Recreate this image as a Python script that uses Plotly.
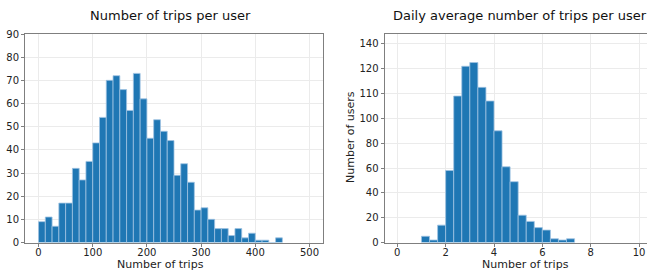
import plotly.graph_objects as go

# ---- data ----
left_bin_start = 0.0
left_bin_width = 12.5
left_counts = [9, 11, 7, 17, 17, 32, 27, 35, 43, 54, 70, 72, 66, 57, 73, 62, 45, 53,
               48, 44, 29, 34, 26, 14, 15, 10, 6, 6, 3, 6, 2, 4, 1, 1, 0, 2]

right_bin_start = 1.0
right_bin_width = 1.0 / 3.0
right_counts = [5, 2, 14, 58, 118, 142, 145, 125, 114, 90, 61, 49, 22, 17, 12, 10, 3, 2, 3]

left_xticks = [0, 100, 200, 300, 400, 500]
left_yticks = [0, 10, 20, 30, 40, 50, 60, 70, 80, 90]
right_xticks = [0, 2, 4, 6, 8, 10]
right_yticks = [0, 20, 40, 60, 80, 100, 120, 140, 160]
right_yticktext = ["0", "20", "40", "60", "80", "100", "110", "120", "140"]

title_left = "Number of trips per user"
title_right = "Daily average number of trips per user"
xlabel = "Number of trips"
ylabel_right = "Number of users"

# ---- figure ----
W, H = 647, 272
BAR = "#1f77b4"
EDGE = "#9fc3e2"
GRID = "#ebebeb"
FRAME = "#7f7f7f"
FONT = "DejaVu Sans"

lx = [left_bin_start + (i + 0.5) * left_bin_width for i in range(len(left_counts))]
rx = [right_bin_start + (i + 0.5) * right_bin_width for i in range(len(right_counts))]

fig = go.Figure()
fig.add_trace(go.Bar(x=lx, y=left_counts, width=left_bin_width,
                     marker=dict(color=BAR, line=dict(color=EDGE, width=0.8)),
                     xaxis="x", yaxis="y", showlegend=False, hoverinfo="skip"))
fig.add_trace(go.Bar(x=rx, y=right_counts, width=right_bin_width,
                     marker=dict(color=BAR, line=dict(color=EDGE, width=0.8)),
                     xaxis="x2", yaxis="y2", showlegend=False, hoverinfo="skip"))

ydom = [1 - 242.5 / H, 1 - 34.0 / H]
common = dict(showline=True, linecolor=FRAME, linewidth=1, gridcolor=GRID, gridwidth=1,
              ticks="outside", ticklen=3, tickcolor=FRAME, zeroline=False, automargin=False,
              tickfont=dict(family=FONT, size=10, color="#222"))

fig.update_layout(
    template="none",
    width=W, height=H, margin=dict(l=0, r=0, t=0, b=0, pad=0), autosize=False,
    paper_bgcolor="white", plot_bgcolor="white", bargap=0,
    font=dict(family=FONT, color="#222"),
    xaxis=dict(domain=[25 / W, 323 / W], range=[-25, 525], tickvals=left_xticks,
               mirror=True, anchor="y", ticklabelstandoff=-3, **common),
    yaxis=dict(domain=ydom, range=[0, 90], tickvals=left_yticks,
               mirror=True, anchor="x", **common),
    xaxis2=dict(domain=[384.5 / W, 1.0], range=[-0.53, 10.33], tickvals=right_xticks,
                mirror=True, anchor="y2", ticklabelstandoff=-3, **common),
    yaxis2=dict(domain=ydom, range=[0, 168], tickvals=right_yticks, ticktext=right_yticktext,
                mirror=False, anchor="x2", **common),
    annotations=[
        dict(text=title_left, x=170 / W, y=1 - 15 / H, xref="paper", yref="paper",
             showarrow=False, font=dict(family=FONT, size=13, color="#111"),
             xanchor="center", yanchor="middle"),
        dict(text=title_right, x=520 / W, y=1 - 15 / H, xref="paper", yref="paper",
             showarrow=False, font=dict(family=FONT, size=13, color="#111"),
             xanchor="center", yanchor="middle"),
        dict(text=xlabel, x=160 / W, y=1 - 264 / H, xref="paper", yref="paper",
             showarrow=False, font=dict(family=FONT, size=11, color="#222"),
             xanchor="center", yanchor="middle"),
        dict(text=xlabel, x=525 / W, y=1 - 264 / H, xref="paper", yref="paper",
             showarrow=False, font=dict(family=FONT, size=11, color="#222"),
             xanchor="center", yanchor="middle"),
        dict(text=ylabel_right, x=350 / W, y=1 - 137 / H, xref="paper", yref="paper",
             showarrow=False, textangle=-90, font=dict(family=FONT, size=11, color="#222"),
             xanchor="center", yanchor="middle"),
    ],
)

fig.write_html("out.html", config={"displayModeBar": False, "staticPlot": True},
               post_script="document.body.style.margin='0';document.body.style.overflow='hidden';")
